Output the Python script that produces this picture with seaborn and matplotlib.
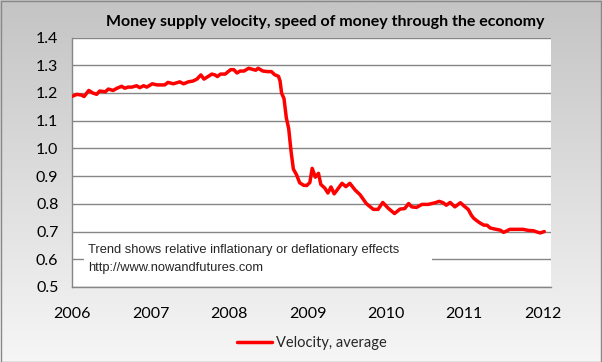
import numpy as np
import pandas as pd
import matplotlib
matplotlib.use("Agg")
import matplotlib.pyplot as plt
from matplotlib.patches import Rectangle
from matplotlib.ticker import MultipleLocator, FormatStrFormatter
from matplotlib.colors import LinearSegmentedColormap
import seaborn as sns

# ---- data (decimal year, velocity) ----
years = [2006.00, 2006.06, 2006.12, 2006.15, 2006.21, 2006.26, 2006.31, 2006.35, 2006.42, 2006.46,
         2006.52, 2006.57, 2006.63, 2006.67, 2006.71, 2006.76, 2006.82, 2006.86, 2006.91, 2006.95,
         2007.02, 2007.08, 2007.18, 2007.22, 2007.29, 2007.37, 2007.42, 2007.48, 2007.54, 2007.59,
         2007.64, 2007.68, 2007.73, 2007.78, 2007.82, 2007.85, 2007.89, 2007.95, 2008.02, 2008.06,
         2008.10, 2008.14, 2008.19, 2008.25, 2008.30, 2008.34, 2008.37, 2008.43, 2008.49, 2008.54,
         2008.58, 2008.63, 2008.65, 2008.67, 2008.70, 2008.73, 2008.76, 2008.79, 2008.82, 2008.86,
         2008.90, 2008.95, 2008.99, 2009.03, 2009.06, 2009.10, 2009.14, 2009.17, 2009.22, 2009.26,
         2009.30, 2009.34, 2009.37, 2009.44, 2009.49, 2009.54, 2009.61, 2009.67, 2009.75, 2009.84,
         2009.90, 2009.96, 2010.03, 2010.11, 2010.18, 2010.24, 2010.29, 2010.33, 2010.39, 2010.46,
         2010.54, 2010.63, 2010.68, 2010.73, 2010.77, 2010.82, 2010.88, 2010.95, 2011.01, 2011.05,
         2011.09, 2011.12, 2011.16, 2011.20, 2011.25, 2011.29, 2011.33, 2011.39, 2011.46, 2011.50,
         2011.54, 2011.58, 2011.67, 2011.75, 2011.82, 2011.88, 2011.92, 2011.97, 2012.02]
velocity = [1.188, 1.195, 1.192, 1.187, 1.209, 1.200, 1.195, 1.207, 1.204, 1.214,
            1.209, 1.217, 1.224, 1.217, 1.221, 1.221, 1.226, 1.219, 1.226, 1.221,
            1.233, 1.229, 1.229, 1.238, 1.233, 1.240, 1.233, 1.240, 1.243, 1.250,
            1.265, 1.250, 1.259, 1.268, 1.265, 1.259, 1.268, 1.268, 1.284, 1.284,
            1.272, 1.279, 1.279, 1.289, 1.285, 1.282, 1.289, 1.279, 1.277, 1.277,
            1.266, 1.260, 1.243, 1.199, 1.180, 1.110, 1.072, 0.990, 0.925, 0.905,
            0.876, 0.867, 0.866, 0.877, 0.928, 0.896, 0.910, 0.870, 0.857, 0.839,
            0.861, 0.836, 0.847, 0.874, 0.862, 0.874, 0.849, 0.833, 0.801, 0.780,
            0.780, 0.805, 0.784, 0.765, 0.781, 0.783, 0.801, 0.789, 0.787, 0.798,
            0.798, 0.804, 0.809, 0.804, 0.795, 0.805, 0.789, 0.804, 0.789, 0.780,
            0.759, 0.748, 0.739, 0.731, 0.723, 0.723, 0.713, 0.709, 0.705, 0.697,
            0.702, 0.708, 0.708, 0.708, 0.704, 0.703, 0.699, 0.695, 0.700]
year_ticks = [2006, 2007, 2008, 2009, 2010, 2011, 2012]
y_ticks = [0.5, 0.6, 0.7, 0.8, 0.9, 1.0, 1.1, 1.2, 1.3, 1.4]
series_name = "Velocity, average"
title = "Money supply velocity, speed of money through the economy"
note = "Trend shows relative inflationary or deflationary effects\nhttp://www.nowandfutures.com"

df = pd.DataFrame({"year": years, "velocity": velocity})

sns.set_style("white")
plt.rcParams["font.family"] = ["Lato", "DejaVu Sans"]

W, H = 602, 362
fig = plt.figure(figsize=(W / 100, H / 100), dpi=100)

# gradient background
bg = fig.add_axes([0, 0, 1, 1], zorder=-10)
grad = np.linspace(0, 1, 256).reshape(-1, 1)
cmap = LinearSegmentedColormap.from_list("bg", ["#c4c4c4", "#f6f6f6"])
bg.imshow(grad, aspect="auto", cmap=cmap, extent=[0, 1, 0, 1], origin="upper")
bg.set_axis_off()
fig.patches.append(Rectangle((0.5 / W, 0.5 / H), 1 - 1.5 / W, 1 - 1.5 / H, transform=fig.transFigure,
                             fill=False, edgecolor="#888888", linewidth=1.0))

left, right, top, bottom = 72.3, 551, 37.5, 287
ax = fig.add_axes([left / W, 1 - bottom / H, (right - left) / W, (bottom - top) / H], zorder=1)
ax.set_facecolor("white")

sns.lineplot(data=df, x="year", y="velocity", color="#ff0000", linewidth=2.5, ax=ax,
             label=series_name, legend=False, zorder=5)

ax.set_xlim(2006, 2012.106)
ax.set_ylim(0.5, 1.4)
ax.set_xticks(year_ticks)
ax.set_xticklabels([str(y) for y in year_ticks])
ax.set_yticks(y_ticks)
ax.yaxis.set_major_formatter(FormatStrFormatter("%.1f"))
ax.xaxis.set_minor_locator(MultipleLocator(0.25))
ax.yaxis.set_minor_locator(MultipleLocator(0.02))
ax.set_xlabel("")
ax.set_ylabel("")

gc = "#868686"
ax.grid(axis="y", which="major", color=gc, linewidth=1.0, zorder=0)
ax.grid(axis="x", visible=False)
ax.set_axisbelow(True)
for s in ["top", "right"]:
    ax.spines[s].set_visible(False)
for s in ["left", "bottom"]:
    ax.spines[s].set_color(gc)
    ax.spines[s].set_linewidth(1.0)

ax.tick_params(axis="x", which="major", direction="inout", length=7.2, width=1, color=gc,
               labelsize=11.5, pad=10.5, labelcolor="black")
ax.tick_params(axis="x", which="minor", direction="out", length=2.9, width=1, color=gc)
ax.tick_params(axis="y", which="major", direction="out", length=3.0, width=1, color=gc,
               labelsize=11.5, pad=7, labelcolor="black")
ax.tick_params(axis="y", which="minor", direction="out", length=3.0, width=1, color=gc)

# white note box
ax.add_patch(Rectangle((0.0244, 0.02), 0.727, 0.17, transform=ax.transAxes,
                       facecolor="white", edgecolor="none", zorder=3))
ax.text(0.033, 0.113, note, transform=ax.transAxes, ha="left", va="center",
        fontsize=9.3, family=["Liberation Sans", "DejaVu Sans"], linespacing=1.6, zorder=4)

fig.text(325 / W, 1 - 22 / H, title, ha="center", va="center", fontsize=11.5,
         fontweight="bold", color="black")

handles, labels = ax.get_legend_handles_labels()
fig.legend(handles, labels, loc="center", bbox_to_anchor=(312 / W, 1 - 343 / H), frameon=False,
           fontsize=10.5, handlelength=2.4, handletextpad=0.3)

fig.savefig("out.png", dpi=100)
